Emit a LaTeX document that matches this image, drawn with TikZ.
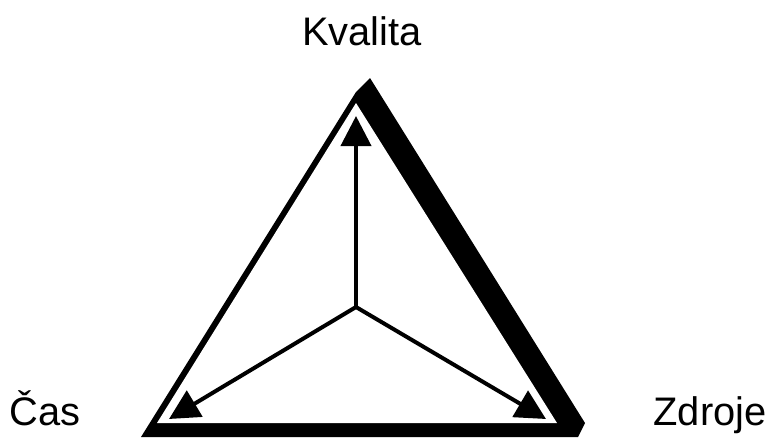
\documentclass[tikz,border=0pt]{standalone}
\usepackage{fontspec}
\setmainfont{Liberation Sans}
\usetikzlibrary{arrows.meta,positioning}
\tikzset{
    label/.style={anchor=base, inner sep=0pt, font=\fontsize{34}{40}\selectfont},
    shadow/.style={fill=black, draw=none},
    face/.style={fill=white, draw=none},
    arrow/.style={-{Triangle[length=0.9cm, width=0.9cm]}, line width=3.4pt}
}
\begin{document}
\begin{tikzpicture}[x=0.03cm, y=-0.03cm]

\useasboundingbox (0,0) rectangle (770,437);

% Triangle with heavy edge on the right and bottom
\fill[shadow] (141,437) -- (356,92) -- (370,78) -- (585,423) -- (578,437) -- cycle;
\fill[face] (157,423) -- (356,103) -- (557,423) -- cycle;

% Centre and corners
\coordinate (center) at (356,307);
\coordinate (top) at (356,116);
\coordinate (left) at (169,419);
\coordinate (right) at (546,419);

% Arrows from the centre
\draw[arrow] (center) -- (top);
\draw[arrow] (center) -- (left);
\draw[arrow] (center) -- (right);

% Labels
\node[label] (kvalita) at (362,45) {Kvalita};
\node[label] (cas) at (45,425) {Čas};
\node[label] (zdroje) at (710,425) {Zdroje};

\end{tikzpicture}
\end{document}
